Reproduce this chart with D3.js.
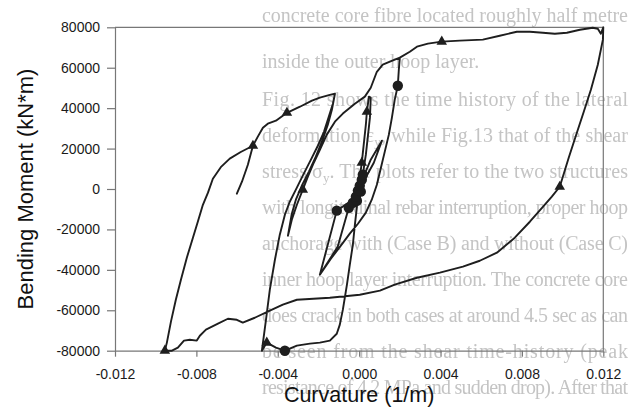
<!DOCTYPE html>
<html>
<head>
<meta charset="utf-8">
<script src="https://d3js.org/d3.v7.min.js"></script>
<style>
  html, body { margin: 0; padding: 0; background: #ffffff; }
  svg { display: block; }
</style>
</head>
<body>
<svg id="chart" width="631" height="410"></svg>
<script>
// Moment–curvature response of the section, in loading order.
// Curvature in 1/m, bending moment in kN*m.
const curvature = [
  0, 0.00008, -0.00016, 0.00013, -0.00031, 0.00003, -0.00051,
  -0.00105, -0.00193, -0.00110, -0.00031, -0.00011,
  0.00057, 0.00112, 0.00072, 0.00013,
  0.00003, 0.00013, 0.00033, 0.00038, 0.00048, 0.00057, 0.00053, 0.00033, 0.00018, -0.00006,
  -0.00011, -0.00021, -0.00031, -0.00046, -0.00060, -0.00080, -0.00095, -0.00110, -0.00144,
  -0.00193, -0.00242, -0.00306, -0.00365, -0.00409, -0.00454, -0.00478,
  -0.00458, -0.00439, -0.00414, -0.00390, -0.00365, -0.00341, -0.00311, -0.00277, -0.00237,
  -0.00203, -0.00173, -0.00149, -0.00129, -0.00119,
  -0.00134, -0.00154, -0.00183, -0.00213, -0.00247, -0.00282, -0.00311, -0.00331, -0.00350,
  -0.00331, -0.00306, -0.00277, -0.00252, -0.00223, -0.00193, -0.00159, -0.00119, -0.00080,
  -0.00021, 0.00028, 0.00057, 0.00087, 0.00116, 0.00151, 0.00200,
  0.00195, 0.00190, 0.00175, 0.00161, 0.00146, 0.00126, 0.00107, 0.00087, 0.00062, 0.00033,
  -0.00006, -0.00046, -0.00090, -0.00139, -0.00193,
  -0.00139, -0.00090, -0.00046, -0.00006, 0.00033, 0.00062, 0.00087, 0.00107, 0.00126,
  0.00146, 0.00161, 0.00175, 0.00190, 0.00195, 0.00200,
  0.00249, 0.00284, 0.00338, 0.00406, 0.00495, 0.00608, 0.00691, 0.00775, 0.00839, 0.00903,
  0.00962, 0.01021, 0.01085, 0.01148, 0.01173, 0.01188, 0.01200,
  0.01198, 0.01173, 0.01139, 0.01104, 0.01070, 0.01030, 0.00986, 0.00947, 0.00903, 0.00839,
  0.00765, 0.00677, 0.00593, 0.00510, 0.00397, 0.00284, 0.00175, 0.00102, 0.00003, -0.00144,
  -0.00306, -0.00375, -0.00439, -0.00513, -0.00572, -0.00601, -0.00645, -0.00694, -0.00753,
  -0.00783, -0.00798, -0.00832, -0.00861, -0.00891, -0.00920, -0.00955,
  -0.00945, -0.00925, -0.00901, -0.00876, -0.00847, -0.00817, -0.00793, -0.00768, -0.00743,
  -0.00719, -0.00680, -0.00636, -0.00582, -0.00522,
  -0.00547, -0.00576, -0.00601, -0.00576, -0.00547, -0.00522,
  -0.00498, -0.00473, -0.00449, -0.00409, -0.00355, -0.00291, -0.00232, -0.00193, -0.00144, -0.00119
];
const moment = [
  0, 4100, -3300, 6600, -5800, 2600, -9300,
  -28500, -42400, -10700, -5300, -1800,
  14500, 23900, 13000, 2100,
  5600, 13000, 31800, 38200, 45700, 45200, 35300, 17000, 7100, -300,
  -8800, -17700, -27600, -37500, -47300, -59700, -67100, -71600, -75000,
  -76000, -76500, -77500, -80000, -78500, -76000, -80000,
  -64700, -49800, -35000, -22600, -12700, -6300, -300, 6600, 14500,
  21400, 28300, 35800, 42200, 47100,
  39200, 31800, 23400, 16000, 8600, 1600, -5300, -12200, -23100,
  -15200, -7800, -300, 6100, 13000, 19400, 26900, 33300, 37300,
  42200, 45700, 50100, 58000, 61500, 63000, 65000,
  59000, 51100, 44200, 35300, 26900, 18500, 10500, 2100, -5300, -11700,
  -17200, -22100, -28000, -34500, -42400,
  -34500, -28000, -22100, -17200, -11700, -5300, 2100, 10500, 18500,
  26900, 35300, 44200, 51100, 59000, 65000,
  67900, 70400, 71900, 72900, 73400, 73900, 75800, 77800, 77800, 77300,
  76800, 77300, 78800, 79800, 79300, 76800, 80000,
  73900, 61500, 49100, 38200, 27800, 15500, 1100, -3800, -8800, -16200,
  -24100, -31500, -35500, -38400, -41400, -43900, -47300, -50300, -52300, -53800,
  -54800, -57200, -60200, -63700, -66100, -64700, -64200, -66600, -69600,
  -72600, -75000, -74600, -75000, -78500, -80000, -80000,
  -76000, -65600, -54800, -44900, -34000, -24100, -16200, -7800, -1800,
  5100, 10800, 15000, 18300, 21400,
  12000, 3600, -2300, 3600, 12000, 21400,
  25900, 30300, 32300, 33800, 37700, 40700, 43700, 45200, 46600, 47100
];

// Marked samples along the response
const triangleCurvature = [0.00406, 0.00986, -0.00955, -0.00522, -0.00355, -0.00277, 0.00038, 0.00013, -0.00454];
const triangleMoment    = [72900, 1100, -80000, 21400, 37700, -300, 38200, 13000, -76000];
const circleCurvature = [0.00190, -0.00110, -0.00051, -0.00365,
  -0.00031, -0.00011, -0.00016, 0.00008, -0.00006, 0.00003, 0.00013, 0.00018];
const circleMoment    = [51100, -10700, -9300, -80000,
  -6800, -5800, -3800, -1300, -800, 1600, 4600, 7100];

// Axis ticks
const curvatureTicks = [-0.012, -0.008, -0.004, 0, 0.004, 0.008, 0.012];
const momentTicks = [-80000, -60000, -40000, -20000, 0, 20000, 40000, 60000, 80000];

// Printed page text showing through behind the figure
const pageLines = [
  "concrete core fibre located roughly half metre",
  "inside the outer hoop layer.",
  "Fig. 12 shows the time history of the lateral",
  "deformation ε_y, while Fig.13 that of the shear",
  "stress σ_y. The plots refer to the two structures",
  "with longitudinal rebar interruption, proper hoop",
  "anchorage with (Case B) and without (Case C)",
  "inner hoop layer interruption. The concrete core",
  "does crack in both cases at around 4.5 sec as can",
  "be seen from the shear time-history (peak",
  "resistance of 4.2 MPa and sudden drop). After that"
];
const pageBaselines = [22, 68, 106, 142, 178, 214, 250, 286, 322, 358, 394];
const pageJustified = [true, false, true, true, true, true, true, true, true, true, true];

const W = 631, H = 410;
const margin = { top: 27.3, right: 27.7, bottom: 59.3, left: 115 };
const svg = d3.select("#chart");

const x = d3.scaleLinear().domain([-0.012, 0.012]).range([margin.left, W - margin.right]);
const y = d3.scaleLinear().domain([-80000, 80000]).range([H - margin.bottom, margin.top]);

// soft edge for the show-through text
svg.append("defs").append("filter").attr("id", "soft")
  .append("feGaussianBlur").attr("stdDeviation", 0.45);

// --- faint page text ---
const page = svg.append("g")
  .attr("font-family", "'Liberation Serif', 'Times New Roman', serif")
  .attr("font-size", 20)
  .attr("fill", "#c4c4c4")
  .attr("filter", "url(#soft)");
pageLines.forEach((line, i) => {
  const t = page.append("text").attr("x", 262).attr("y", pageBaselines[i]);
  const parts = line.split("_");
  t.append("tspan").text(parts[0]);
  parts.slice(1).forEach(p => {
    t.append("tspan").attr("font-size", 13).attr("dy", 4).text(p.charAt(0));
    t.append("tspan").attr("dy", -4).text(p.slice(1));
  });
  if (pageJustified[i]) t.attr("textLength", 366).attr("lengthAdjust", "spacing");
});

// --- axes ---
const axisColor = "#777";
const fontSans = "'Liberation Sans', Arial, Helvetica, sans-serif";

const yAxis = d3.axisLeft(y).tickValues(momentTicks).tickSize(8).tickSizeOuter(0).tickPadding(7)
  .tickFormat(d => String(d));
const gy = svg.append("g").attr("transform", `translate(${margin.left},0)`).call(yAxis);

const xAxis = d3.axisBottom(x).tickValues(curvatureTicks).tickSize(6).tickSizeOuter(0).tickPadding(12)
  .tickFormat(d => d.toFixed(3));
const gx = svg.append("g").attr("transform", `translate(0,${H - margin.bottom})`).call(xAxis);

[gx, gy].forEach(g => {
  g.selectAll("path.domain").attr("stroke", axisColor).attr("stroke-width", 1.2);
  g.selectAll(".tick line").attr("stroke", axisColor).attr("stroke-width", 1.2);
  g.selectAll(".tick text")
    .attr("font-family", fontSans).attr("font-size", 14).attr("fill", "#1a1a1a");
});

// top and right frame
svg.append("line")
  .attr("x1", x(-0.012)).attr("x2", x(0.012)).attr("y1", y(80000)).attr("y2", y(80000))
  .attr("stroke", axisColor).attr("stroke-width", 1.2);
svg.append("line")
  .attr("x1", x(0.012)).attr("x2", x(0.012)).attr("y1", y(80000)).attr("y2", y(-80000))
  .attr("stroke", axisColor).attr("stroke-width", 1.2);

// --- axis titles ---
svg.append("text")
  .attr("x", (x(-0.012) + x(0.012)) / 2).attr("y", 402)
  .attr("text-anchor", "middle")
  .attr("font-family", fontSans).attr("font-size", 21.5).attr("fill", "#111")
  .text("Curvature (1/m)");
svg.append("text")
  .attr("transform", `translate(33,${(y(80000) + y(-80000)) / 2}) rotate(-90)`)
  .attr("text-anchor", "middle")
  .attr("font-family", fontSans).attr("font-size", 22).attr("fill", "#111")
  .text("Bending Moment (kN*m)");

// --- response curve ---
const points = curvature.map((c, i) => [c, moment[i]]);
svg.append("path")
  .datum(points)
  .attr("d", d3.line().x(d => x(d[0])).y(d => y(d[1])))
  .attr("fill", "none")
  .attr("stroke", "#1e1e1e")
  .attr("stroke-width", 1.9)
  .attr("stroke-linejoin", "round")
  .attr("stroke-linecap", "round");

// --- markers ---
const tri = d3.symbol().type(d3.symbolTriangle).size(48);
svg.append("g").selectAll("path")
  .data(triangleCurvature.map((c, i) => [c, triangleMoment[i]]))
  .join("path")
  .attr("transform", d => `translate(${x(d[0])},${y(d[1])})`)
  .attr("d", tri)
  .attr("fill", "#1e1e1e");

const dot = d3.symbol().type(d3.symbolCircle).size(85);
svg.append("g").selectAll("path")
  .data(circleCurvature.map((c, i) => [c, circleMoment[i]]))
  .join("path")
  .attr("transform", d => `translate(${x(d[0])},${y(d[1])})`)
  .attr("d", dot)
  .attr("fill", "#1e1e1e");
</script>
</body>
</html>
